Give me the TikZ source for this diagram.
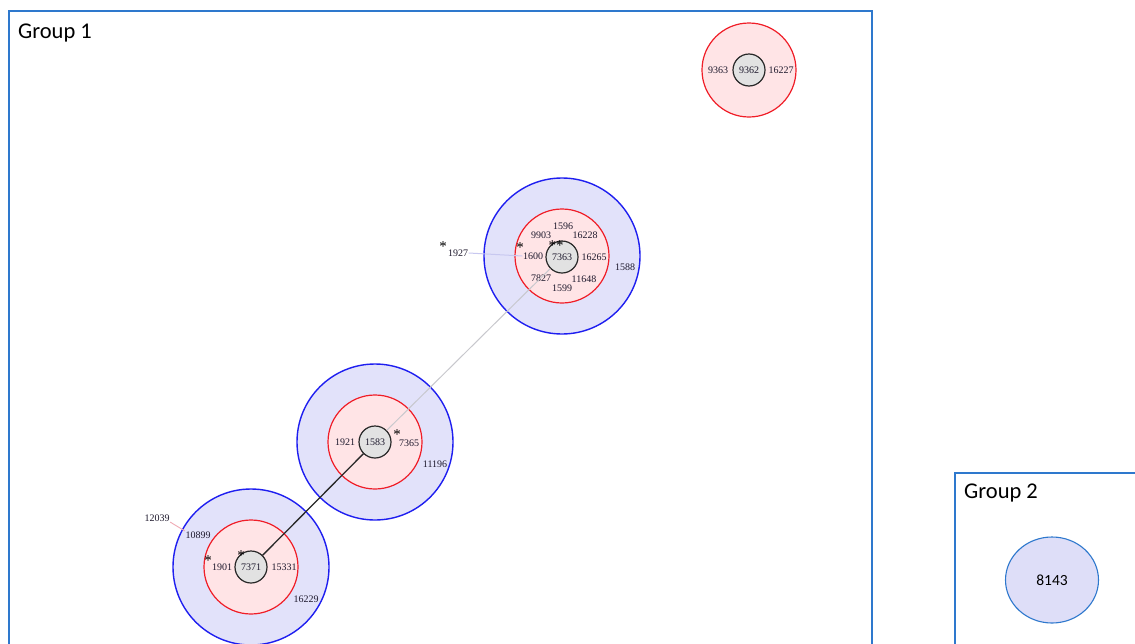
\documentclass[tikz,border=0pt]{standalone}
\usepackage{fontspec}
\setmainfont{Liberation Serif}
\newfontfamily\grpfont{Carlito}
\usetikzlibrary{shapes.geometric}

\definecolor{grpblue}{RGB}{46,120,205}
\definecolor{ringblue}{RGB}{30,30,240}
\definecolor{ringbluefill}{RGB}{226,226,250}
\definecolor{ringred}{RGB}{240,30,40}
\definecolor{ringredfill}{RGB}{255,228,230}
\definecolor{corefill}{RGB}{226,226,226}
\definecolor{corestroke}{RGB}{40,40,40}
\definecolor{labtext}{RGB}{30,25,45}
\definecolor{linkgray}{RGB}{200,200,205}
\definecolor{linklav}{RGB}{200,200,240}
\definecolor{linkpink}{RGB}{240,170,180}
\definecolor{g2fill}{RGB}{222,222,248}

\tikzset{
  outerring/.style={circle, draw=ringblue, fill=ringbluefill, line width=1.4pt, minimum size=156pt, inner sep=0pt},
  innerring/.style={circle, draw=ringred, fill=ringredfill, line width=1.2pt, minimum size=94pt, inner sep=0pt},
  core/.style={circle, draw=corestroke, fill=corefill, line width=1.2pt, minimum size=32pt, inner sep=0pt,
    text=labtext, font=\fontsize{10}{10}\selectfont},
  lab/.style={text=labtext, inner sep=0.5pt, font=\fontsize{10}{10}\selectfont},
  star/.style={text=black, inner sep=0pt, font=\fontsize{15}{15}\selectfont},
  grouptitle/.style={anchor=west, inner sep=0pt, font=\grpfont\fontsize{22.5}{23}\selectfont},
  groupframe/.style={draw=grpblue, line width=2pt},
}

\begin{document}
\begin{tikzpicture}[x=1pt,y=-1pt]
\useasboundingbox (0,0) rectangle (1135,643);
\clip (0,0) rectangle (1135,643);
\fill[white] (0,0) rectangle (1135,643);

% group frames
\draw[groupframe] (8.5,660) -- (8.5,10.5) -- (872,10.5) -- (872,660);
\draw[groupframe] (954.5,660) -- (954.5,472.5) -- (1150,472.5);
\node[grouptitle] (g1title) at (18,33) {Group 1};
\node[grouptitle] (g2title) at (964,493) {Group 2};

% rings
\node[innerring] (r9362) at (749,70) {};
\node[outerring] (o7363) at (562,256) {};
\node[innerring] (r7363) at (562,256) {};
\node[outerring] (o1583) at (375,442) {};
\node[innerring] (r1583) at (375,442) {};
\node[outerring] (o7371) at (251,567) {};
\node[innerring] (r7371) at (251,567) {};

% cores
\node[core] (c9362) at (749,70) {9362};
\node[core] (c7363) at (562,257) {7363};
\node[core] (c1583) at (375,442) {1583};
\node[core] (c7371) at (251,567) {7371};

% member labels
\node[lab] (n9363) at (718,70) {9363};
\node[lab] (n16227) at (781,70) {16227};

\node[lab] (n1596) at (563,226) {1596};
\node[lab] (n9903) at (541,235) {9903};
\node[lab] (n16228) at (585,235) {16228};
\node[lab] (n1600) at (533,256) {1600};
\node[lab] (n16265) at (594,257) {16265};
\node[lab] (n7827) at (541,278) {7827};
\node[lab] (n11648) at (584,279) {11648};
\node[lab] (n1599) at (562,288) {1599};
\node[lab] (n1588) at (625,267) {1588};
\node[lab] (n1927) at (458,253) {1927};

\node[lab] (n1921) at (345,442) {1921};
\node[lab] (n7365) at (409,443) {7365};
\node[lab] (n11196) at (435,464) {11196};

\node[lab] (n12039) at (157,518) {12039};
\node[lab] (n10899) at (198,535) {10899};
\node[lab] (n1901) at (222,567) {1901};
\node[lab] (n15331) at (284,567) {15331};
\node[lab] (n16229) at (306,599) {16229};

% links
\draw[linklav, line width=1pt] (n1927.east) -- (n1600.west);
\draw[linkpink, line width=0.9pt] (n12039.south east) -- (n10899.north west);
\draw[linkgray, line width=1pt] (c7363) -- (c1583);
\draw[corestroke, line width=1.3pt] (c1583) -- (c7371);

% markers
\node[star] (s1927) at (443,247) {*};
\node[star] (s1600) at (520,248) {*};
\node[star] (s7363) at (556,246) {**};
\node[star] (s7365) at (397,435) {*};
\node[star] (s1901) at (208,561) {*};
\node[star] (s7371) at (241,556) {*};

% group 2
\node[ellipse, draw=grpblue, fill=g2fill, line width=1.1pt, minimum width=93pt, minimum height=86pt,
  font=\grpfont\fontsize{15.5}{16}\selectfont] (e8143) at (1052,580) {8143};
\end{tikzpicture}
\end{document}
